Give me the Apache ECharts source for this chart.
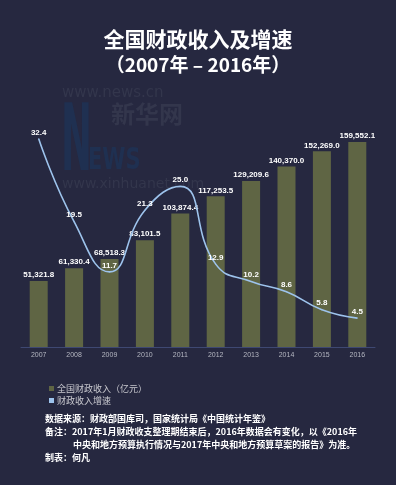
<!DOCTYPE html>
<html><head><meta charset="utf-8">
<script src="https://cdn.jsdelivr.net/npm/echarts@6/dist/echarts.min.js"></script>
<style>html,body{margin:0;padding:0;background:#262840;}#c{width:396px;height:485px;}</style>
</head><body><div id="c"></div>
<script>
const years = ['2007','2008','2009','2010','2011','2012','2013','2014','2015','2016'];
const revenue = [51321.8, 61330.4, 68518.3, 83101.5, 103874.4, 117253.5, 129209.6, 140370.0, 152269.0, 159552.1];
const growth = [32.4, 19.5, 11.7, 21.3, 25.0, 12.9, 10.2, 8.6, 5.8, 4.5];
const seriesNames = ['全国财政收入（亿元）', '财政收入增速'];
const titleText = '全国财政收入及增速';
const subtitleText = '（2007年 – 2016年）';
const footLines = [
  '数据来源：财政部国库司，国家统计局《中国统计年鉴》',
  '备注：2017年1月财政收支整理期结束后，2016年数据会有变化，以《2016年',
  '中央和地方预算执行情况与2017年中央和地方预算草案的报告》为准。',
  '制表：何凡'
];

const chart = echarts.init(document.getElementById('c'), null, {renderer: 'canvas'});
const cjk = '"Noto Sans CJK SC", sans-serif';
const footStyle = {fill: '#ffffff', font: 'bold 9px ' + cjk};
const wm = '#33364c';
const wmBlue = '#1f3051';
chart.setOption({
  backgroundColor: '#262840',
  animation: false,
  title: [
    {text: titleText, left: 'center', top: 24, textStyle: {color: '#ffffff', fontSize: 21, fontWeight: 'bold', fontFamily: cjk}},
    {text: subtitleText, left: 'center', top: 50, textStyle: {color: '#ffffff', fontSize: 19, fontWeight: 'bold', fontFamily: cjk}}
  ],
  graphic: [
    {type: 'text', x: 62, y: 86, z: 0, style: {text: 'www.news.cn', fill: wm, font: '15px "DejaVu Sans", sans-serif'}},
    {type: 'text', x: 61, y: 100, scaleY: 2.5, z: 0, style: {text: 'N', fill: wmBlue, font: 'bold 37px "DejaVu Sans", sans-serif', textVerticalAlign: 'top'}},
    {type: 'text', x: 88, y: 147, scaleY: 1.4, z: 0, style: {text: 'EWS', fill: wmBlue, font: 'bold 21px "DejaVu Sans", sans-serif', textVerticalAlign: 'top'}},
    {type: 'text', x: 111, y: 102, z: 0, style: {text: '新华网', fill: wm, font: 'bold 24px ' + cjk}},
    {type: 'text', x: 62, y: 177, z: 0, style: {text: 'www.xinhuanet.com', fill: wm, font: '14px "DejaVu Sans", sans-serif'}},
    {type: 'text', left: 45, top: 414, style: Object.assign({text: footLines[0]}, footStyle)},
    {type: 'text', left: 45, top: 427, style: Object.assign({text: footLines[1]}, footStyle)},
    {type: 'text', left: 73, top: 440, style: Object.assign({text: footLines[2]}, footStyle)},
    {type: 'text', left: 45, top: 453, style: Object.assign({text: footLines[3]}, footStyle)}
  ],
  legend: {
    orient: 'vertical', left: 44, top: 379, itemWidth: 5, itemHeight: 5, itemGap: 3,
    icon: 'rect',
    textStyle: {color: '#c9c9cf', fontSize: 9, fontFamily: cjk, padding: [0, 0, 0, -2]},
    data: seriesNames
  },
  grid: {left: 21, right: 21, top: 90, bottom: 138},
  xAxis: {
    type: 'category', data: years,
    axisLine: {lineStyle: {color: '#3e4872', width: 1}},
    axisTick: {show: false},
    axisLabel: {color: '#b4b6c0', fontSize: 7, margin: 5, fontFamily: 'Liberation Sans'}
  },
  yAxis: [
    {type: 'value', min: 0, max: 200000, show: false, splitLine: {show: false}},
    {type: 'value', min: 0, max: 40, show: false, splitLine: {show: false}}
  ],
  series: [
    {
      name: seriesNames[0], type: 'bar', data: revenue, barWidth: 18,
      itemStyle: {color: '#5f6544'},
      label: {show: true, position: 'top', distance: 2, color: '#ffffff', fontSize: 8, fontWeight: 'bold', fontFamily: 'Liberation Sans',
        formatter: p => p.value.toLocaleString('en-US', {minimumFractionDigits: 1, maximumFractionDigits: 1})}
    },
    {
      name: seriesNames[1], type: 'line', yAxisIndex: 1, data: growth, smooth: 0.5,
      symbol: 'circle', symbolSize: 1,
      lineStyle: {color: '#9dc3ec', width: 1.6},
      itemStyle: {color: '#9dc3ec'},
      label: {show: true, position: 'top', distance: 2, color: '#ffffff', fontSize: 8, fontWeight: 'bold', fontFamily: 'Liberation Sans',
        formatter: p => p.value.toFixed(1)}
    }
  ]
});
</script></body></html>
